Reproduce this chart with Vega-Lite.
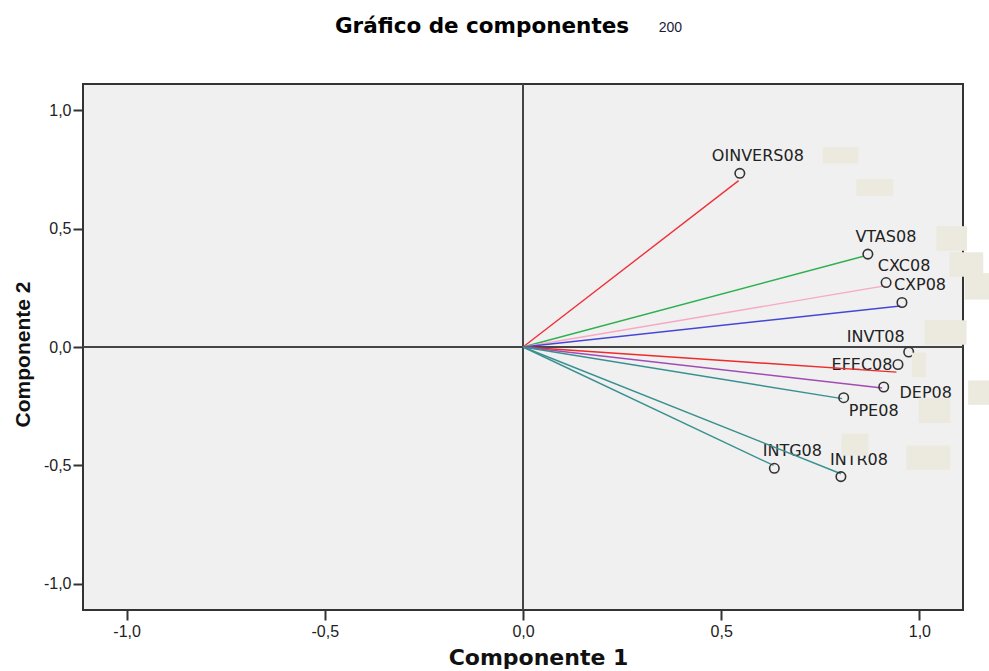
{
  "$schema": "https://vega.github.io/schema/vega-lite/v6.json",
  "width": 880,
  "height": 526,
  "autosize": {"type": "none"},
  "padding": {"left": 83, "top": 84, "right": 26, "bottom": 61},
  "background": "white",
  "title": {
    "text": "Gráfico de componentes",
    "font": "DejaVu Sans",
    "fontSize": 21.5,
    "fontWeight": "bold",
    "color": "#000000",
    "anchor": "middle",
    "frame": "group",
    "baseline": "alphabetic",
    "offset": 0,
    "dx": -41,
    "dy": 34
  },
  "config": {
    "view": {"fill": "#f0f0f0", "stroke": "#333333", "strokeWidth": 2},
    "axis": {
      "grid": false,
      "domain": false,
      "ticks": true,
      "tickSize": 10,
      "tickWidth": 2,
      "tickColor": "#333333",
      "labelFont": "Liberation Sans",
      "labelFontSize": 16,
      "labelColor": "#222222",
      "titleColor": "#111111",
      "titleFontWeight": "bold"
    }
  },
  "datasets": {
    "points": [
      {"var": "OINVERS08", "x": 0.547, "y": 0.733},
      {"var": "VTAS08", "x": 0.870, "y": 0.392},
      {"var": "CXC08", "x": 0.916, "y": 0.272},
      {"var": "CXP08", "x": 0.956, "y": 0.188},
      {"var": "INVT08", "x": 0.973, "y": -0.021},
      {"var": "EFEC08", "x": 0.946, "y": -0.074},
      {"var": "DEP08", "x": 0.910, "y": -0.169},
      {"var": "PPE08", "x": 0.809, "y": -0.214},
      {"var": "INTG08", "x": 0.634, "y": -0.512},
      {"var": "INTR08", "x": 0.802, "y": -0.547}
    ],
    "lines": [
      {"line": "OINVERS08", "x": 0.544, "y": 0.702},
      {"line": "VTAS08", "x": 0.859, "y": 0.383},
      {"line": "CXC08", "x": 0.912, "y": 0.258},
      {"line": "CXP08", "x": 0.952, "y": 0.173},
      {"line": "EFEC08", "x": 0.942, "y": -0.106},
      {"line": "DEP08", "x": 0.906, "y": -0.173},
      {"line": "PPE08", "x": 0.805, "y": -0.218},
      {"line": "INTG08", "x": 0.632, "y": -0.500},
      {"line": "INTR08", "x": 0.802, "y": -0.535}
    ],
    "boxes": [
      {"x": 0.756, "x2": 0.846, "y": 0.843, "y2": 0.774},
      {"x": 0.841, "x2": 0.934, "y": 0.709, "y2": 0.638},
      {"x": 1.043, "x2": 1.120, "y": 0.510, "y2": 0.406},
      {"x": 1.076, "x2": 1.161, "y": 0.400, "y2": 0.296},
      {"x": 1.114, "x2": 1.177, "y": 0.312, "y2": 0.200},
      {"x": 1.013, "x2": 1.119, "y": 0.113, "y2": 0.010},
      {"x": 0.981, "x2": 1.017, "y": -0.024, "y2": -0.127},
      {"x": 1.123, "x2": 1.177, "y": -0.141, "y2": -0.244},
      {"x": 0.998, "x2": 1.078, "y": -0.214, "y2": -0.321},
      {"x": 0.803, "x2": 0.871, "y": -0.366, "y2": -0.459},
      {"x": 0.967, "x2": 1.078, "y": -0.416, "y2": -0.518}
    ],
    "note": [
      {"text": "200", "x": 0.372, "y": 1.348}
    ]
  },
  "layer": [
    {
      "data": {"values": [{"v": 0}]},
      "mark": {"type": "rule", "color": "#444444", "strokeWidth": 2},
      "encoding": {
        "x": {
          "field": "v",
          "type": "quantitative",
          "scale": {"domain": [-1.11, 1.11], "nice": false, "zero": false},
          "axis": {
            "values": [-1, -0.5, 0, 0.5, 1],
            "labelExpr": "(datum.value < 0 ? '-' : '') + replace(format(abs(datum.value), '.1f'), '.', ',')",
            "title": "Componente 1",
            "labelPadding": 3,
            "titleFont": "DejaVu Sans",
            "titleFontSize": 22,
            "titleX": 455,
            "titleY": 54,
            "titleBaseline": "alphabetic",
            "titleAlign": "center"
          }
        }
      }
    },
    {
      "data": {"values": [{"v": 0}]},
      "mark": {"type": "rule", "color": "#444444", "strokeWidth": 2},
      "encoding": {
        "y": {
          "field": "v",
          "type": "quantitative",
          "scale": {"domain": [-1.11, 1.11], "nice": false, "zero": false},
          "axis": {
            "values": [-1, -0.5, 0, 0.5, 1],
            "labelExpr": "(datum.value < 0 ? '-' : '') + replace(format(abs(datum.value), '.1f'), '.', ',')",
            "title": "Componente 2",
            "labelPadding": 2,
            "titleFont": "Liberation Sans",
            "titleFontSize": 21,
            "titleAngle": -90,
            "titleX": -54,
            "titleY": 270,
            "titleBaseline": "alphabetic",
            "titleAlign": "center"
          }
        }
      }
    },
    {
      "data": {"name": "points"},
      "transform": [{"filter": {"field": "var", "oneOf": ["OINVERS08", "VTAS08", "CXC08", "CXP08", "INTG08", "INTR08"]}}],
      "mark": {"type": "text", "font": "DejaVu Sans", "fontSize": 16, "color": "#222222", "align": "center", "baseline": "middle", "dx": 18, "dy": -17},
      "encoding": {
        "x": {"field": "x", "type": "quantitative"},
        "y": {"field": "y", "type": "quantitative"},
        "text": {"field": "var"}
      }
    },
    {
      "data": {"name": "points"},
      "transform": [{"filter": {"field": "var", "equal": "INVT08"}}],
      "mark": {"type": "text", "font": "DejaVu Sans", "fontSize": 16, "color": "#222222", "align": "center", "baseline": "middle", "dx": -33, "dy": -15},
      "encoding": {
        "x": {"field": "x", "type": "quantitative"},
        "y": {"field": "y", "type": "quantitative"},
        "text": {"field": "var"}
      }
    },
    {
      "data": {"name": "points"},
      "transform": [{"filter": {"field": "var", "equal": "EFEC08"}}],
      "mark": {"type": "text", "font": "DejaVu Sans", "fontSize": 16, "color": "#222222", "align": "center", "baseline": "middle", "dx": -36, "dy": 0},
      "encoding": {
        "x": {"field": "x", "type": "quantitative"},
        "y": {"field": "y", "type": "quantitative"},
        "text": {"field": "var"}
      }
    },
    {
      "data": {"name": "points"},
      "transform": [{"filter": {"field": "var", "equal": "DEP08"}}],
      "mark": {"type": "text", "font": "DejaVu Sans", "fontSize": 16, "color": "#222222", "align": "center", "baseline": "middle", "dx": 42, "dy": 5.5},
      "encoding": {
        "x": {"field": "x", "type": "quantitative"},
        "y": {"field": "y", "type": "quantitative"},
        "text": {"field": "var"}
      }
    },
    {
      "data": {"name": "points"},
      "transform": [{"filter": {"field": "var", "equal": "PPE08"}}],
      "mark": {"type": "text", "font": "DejaVu Sans", "fontSize": 16, "color": "#222222", "align": "center", "baseline": "middle", "dx": 30, "dy": 13},
      "encoding": {
        "x": {"field": "x", "type": "quantitative"},
        "y": {"field": "y", "type": "quantitative"},
        "text": {"field": "var"}
      }
    },
    {
      "data": {"name": "lines"},
      "mark": {"type": "rule", "strokeWidth": 1.4},
      "encoding": {
        "x": {"field": "x", "type": "quantitative"},
        "y": {"field": "y", "type": "quantitative"},
        "x2": {"datum": 0},
        "y2": {"datum": 0},
        "color": {
          "field": "line",
          "type": "nominal",
          "scale": {
            "domain": ["OINVERS08", "VTAS08", "CXC08", "CXP08", "EFEC08", "DEP08", "PPE08", "INTG08", "INTR08"],
            "range": ["#f0303a", "#2eb04e", "#f7a8c4", "#4646d6", "#ee2a2a", "#a04cb4", "#3a9090", "#3a9090", "#3a9090"]
          },
          "legend": null
        }
      }
    },
    {
      "data": {"name": "points"},
      "mark": {"type": "point", "shape": "circle", "filled": false, "size": 90, "stroke": "#333333", "strokeWidth": 1.6, "opacity": 1},
      "encoding": {
        "x": {"field": "x", "type": "quantitative"},
        "y": {"field": "y", "type": "quantitative"}
      }
    },
    {
      "data": {"name": "boxes"},
      "mark": {"type": "rect", "color": "#ece9de"},
      "encoding": {
        "x": {"field": "x", "type": "quantitative"},
        "x2": {"field": "x2"},
        "y": {"field": "y", "type": "quantitative"},
        "y2": {"field": "y2"}
      }
    },
    {
      "data": {"name": "note"},
      "mark": {"type": "text", "font": "Liberation Sans", "fontSize": 14, "color": "#1a1a3a", "align": "center", "baseline": "middle"},
      "encoding": {
        "x": {"field": "x", "type": "quantitative"},
        "y": {"field": "y", "type": "quantitative"},
        "text": {"field": "text"}
      }
    }
  ]
}
